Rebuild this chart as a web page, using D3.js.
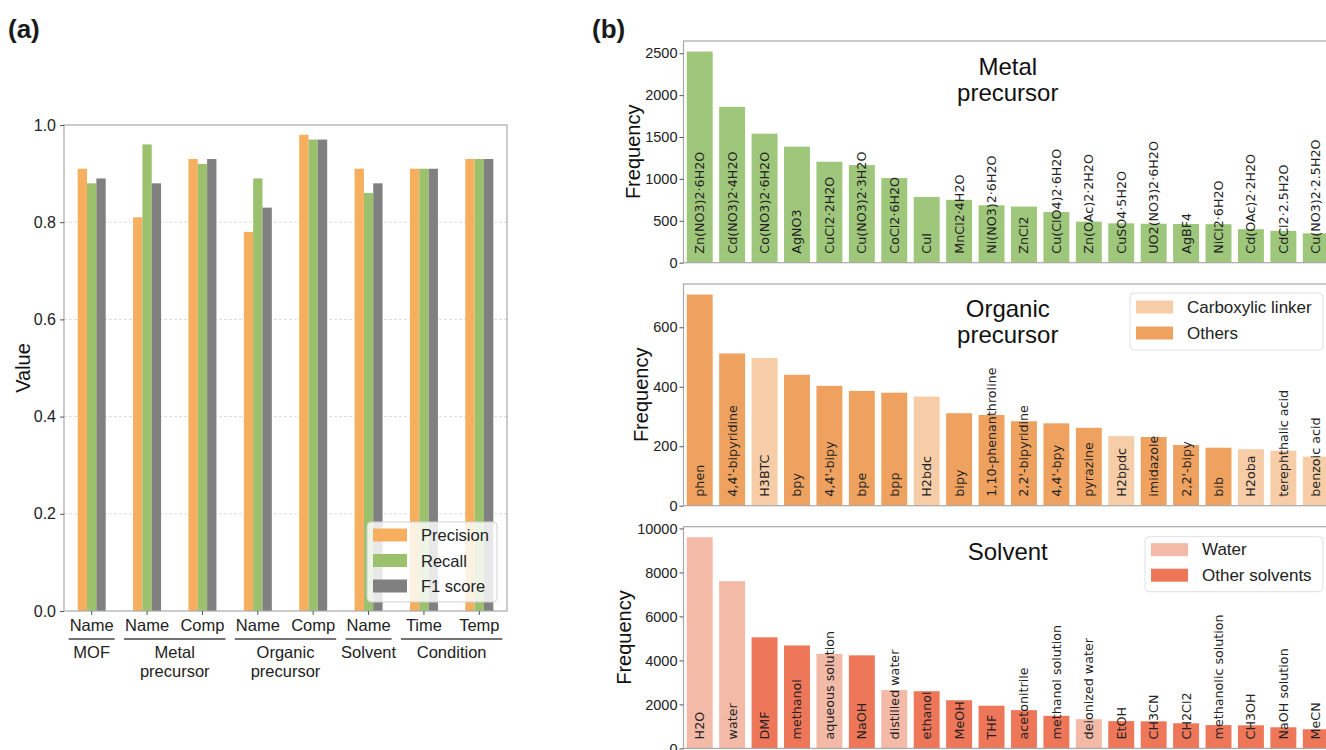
<!DOCTYPE html>
<html>
<head>
<meta charset="utf-8">
<script src="https://cdn.jsdelivr.net/npm/d3@7/dist/d3.min.js"></script>
<style>
  html, body { margin: 0; padding: 0; background: #fff; }
  svg { display: block; }
</style>
</head>
<body>
<svg id="fig" width="1326" height="750"></svg>
<script>
// ---------- Panel (a): extraction performance ----------
const tasks = ["MOF-Name", "Metal-Name", "Metal-Comp", "Organic-Name", "Organic-Comp", "Solvent-Name", "Condition-Time", "Condition-Temp"];
const taskTicks = ["Name", "Name", "Comp", "Name", "Comp", "Name", "Time", "Temp"];
const taskGroups = [
  { lines: ["MOF"], first: 0, last: 0 },
  { lines: ["Metal", "precursor"], first: 1, last: 2 },
  { lines: ["Organic", "precursor"], first: 3, last: 4 },
  { lines: ["Solvent"], first: 5, last: 5 },
  { lines: ["Condition"], first: 6, last: 7 }
];
const metricNames = ["Precision", "Recall", "F1 score"];
const precision = [0.91, 0.81, 0.93, 0.78, 0.98, 0.91, 0.91, 0.93];
const recall    = [0.88, 0.96, 0.92, 0.89, 0.97, 0.86, 0.91, 0.93];
const f1score   = [0.89, 0.88, 0.93, 0.83, 0.97, 0.88, 0.91, 0.93];
const valueTicks = [0, 0.2, 0.4, 0.6, 0.8, 1.0];

// ---------- Panel (b): frequency of extracted entities ----------
const metalNames = ["Zn(NO3)2·6H2O", "Cd(NO3)2·4H2O", "Co(NO3)2·6H2O", "AgNO3", "CuCl2·2H2O", "Cu(NO3)2·3H2O",
  "CoCl2·6H2O", "CuI", "MnCl2·4H2O", "Ni(NO3)2·6H2O", "ZnCl2", "Cu(ClO4)2·6H2O", "Zn(OAc)2·2H2O", "CuSO4·5H2O",
  "UO2(NO3)2·6H2O", "AgBF4", "NiCl2·6H2O", "Cd(OAc)2·2H2O", "CdCl2·2.5H2O", "Cu(NO3)2·2.5H2O"];
const metalCounts = [2520, 1860, 1540, 1385, 1205, 1165, 1010, 785, 750, 685, 670, 605, 490, 470, 465, 462, 460, 400, 380, 350];
const metalTicks = [0, 500, 1000, 1500, 2000, 2500];

const organicNames = ["phen", "4,4'-bipyridine", "H3BTC", "bpy", "4,4'-bipy", "bpe", "bpp", "H2bdc", "bipy",
  "1,10-phenanthroline", "2,2'-bipyridine", "4,4'-bpy", "pyrazine", "H2bpdc", "imidazole", "2,2'-bipy", "bib",
  "H2oba", "terephthalic acid", "benzoic acid"];
const organicCounts = [710, 512, 497, 440, 403, 386, 380, 367, 311, 305, 284, 277, 262, 234, 231, 204, 195, 190, 185, 165];
const carboxylicLinkers = ["H3BTC", "H2bdc", "H2bpdc", "H2oba", "terephthalic acid", "benzoic acid"];
const organicTicks = [0, 200, 400, 600];

const solventNames = ["H2O", "water", "DMF", "methanol", "aqueous solution", "NaOH", "distilled water", "ethanol",
  "MeOH", "THF", "acetonitrile", "methanol solution", "deionized water", "EtOH", "CH3CN", "CH2Cl2",
  "methanolic solution", "CH3OH", "NaOH solution", "MeCN"];
const solventCounts = [9600, 7600, 5050, 4680, 4300, 4230, 2650, 2600, 2190, 1940, 1740, 1480, 1330, 1240, 1230, 1140, 1060, 1050, 960, 870];
const waterSolvents = ["H2O", "water", "aqueous solution", "distilled water", "deionized water"];
const solventTicks = [0, 2000, 4000, 6000, 8000, 10000];

// ---------- styling ----------
const SANS = "'Liberation Sans', Arial, Helvetica, sans-serif";
const LABEL_FONT = "'DejaVu Sans', Verdana, sans-serif";
const C = {
  precision: "#F5AF5F", recall: "#9CC16D", f1: "#808080",
  metal: "#9FC77B",
  organic: "#EFA25F", carboxylic: "#F6CDA7",
  solvent: "#EE7659", water: "#F3BAA8",
  spine: "#A8A8A8", text: "#1a1a1a"
};

const svg = d3.select("#fig");

// panel letters
svg.append("text").attr("x", 8).attr("y", 38).attr("font-family", SANS).attr("font-weight", "bold")
  .attr("font-size", 26).attr("fill", C.text).text("(a)");
svg.append("text").attr("x", 592).attr("y", 38).attr("font-family", SANS).attr("font-weight", "bold")
  .attr("font-size", 26).attr("fill", C.text).text("(b)");

// ================= Panel (a) =================
(function drawPanelA() {
  const box = { left: 64, right: 507, top: 125, bottom: 611 };
  const x = d3.scaleBand().domain(tasks).range([box.left, box.right]).padding(0);
  const y = d3.scaleLinear().domain([0, 1]).range([box.bottom, box.top]);
  const sub = d3.scaleBand().domain(metricNames).range([-14, 14]).padding(0);
  const g = svg.append("g");

  // grid
  g.append("g").selectAll("line").data(valueTicks.slice(1, -1)).join("line")
    .attr("x1", box.left).attr("x2", box.right)
    .attr("y1", d => y(d)).attr("y2", d => y(d))
    .attr("stroke", "#dcdcdc").attr("stroke-width", 1).attr("stroke-dasharray", "3,2");

  const series = [
    { name: "Precision", values: precision, color: C.precision },
    { name: "Recall", values: recall, color: C.recall },
    { name: "F1 score", values: f1score, color: C.f1 }
  ];
  series.forEach(s => {
    g.append("g").selectAll("rect").data(tasks).join("rect")
      .attr("x", (t) => x(t) + x.bandwidth() / 2 + sub(s.name))
      .attr("width", sub.bandwidth())
      .attr("y", (t, i) => y(s.values[i]))
      .attr("height", (t, i) => y(0) - y(s.values[i]))
      .attr("fill", s.color);
  });

  // frame
  g.append("rect").attr("x", box.left).attr("y", box.top)
    .attr("width", box.right - box.left).attr("height", box.bottom - box.top)
    .attr("fill", "none").attr("stroke", C.spine).attr("stroke-width", 1.2);

  // y axis
  const ya = g.append("g").attr("transform", `translate(${box.left},0)`)
    .call(d3.axisLeft(y).tickValues(valueTicks).tickFormat(d3.format(".1f")).tickSize(4).tickPadding(4));
  ya.select(".domain").remove();
  ya.selectAll(".tick line").attr("stroke", "#555");
  ya.selectAll(".tick text").attr("font-family", SANS).attr("font-size", 16).attr("fill", "#222");

  // x axis ticks and labels
  const xa = g.append("g").attr("transform", `translate(0,${box.bottom})`)
    .call(d3.axisBottom(x).tickSize(4).tickPadding(4).tickFormat((d, i) => taskTicks[i]));
  xa.select(".domain").remove();
  xa.selectAll(".tick line").attr("stroke", "#555");
  xa.selectAll(".tick text").attr("font-family", SANS).attr("font-size", 16.5).attr("fill", "#222");

  // group brackets
  const cx = t => x(t) + x.bandwidth() / 2;
  taskGroups.forEach(gr => {
    const x0 = cx(tasks[gr.first]) - 23, x1 = cx(tasks[gr.last]) + 23;
    g.append("line").attr("x1", x0).attr("x2", x1).attr("y1", 639).attr("y2", 639)
      .attr("stroke", "#444").attr("stroke-width", 1.3);
    const mid = (cx(tasks[gr.first]) + cx(tasks[gr.last])) / 2;
    gr.lines.forEach((ln, k) => {
      g.append("text").attr("x", mid).attr("y", 658 + k * 19).attr("text-anchor", "middle")
        .attr("font-family", SANS).attr("font-size", 16.5).attr("fill", "#222").text(ln);
    });
  });

  // y label
  g.append("text").attr("transform", `translate(30,${(box.top + box.bottom) / 2}) rotate(-90)`)
    .attr("text-anchor", "middle").attr("font-family", SANS).attr("font-size", 20).attr("fill", "#111").text("Value");

  // legend
  const lg = g.append("g");
  lg.append("rect").attr("x", 367).attr("y", 522).attr("width", 130).attr("height", 80).attr("rx", 4)
    .attr("fill", "#fff").attr("fill-opacity", 0.82).attr("stroke", "#d0d0d0");
  series.forEach((s, i) => {
    const cy = 535 + i * 25.5;
    lg.append("rect").attr("x", 373).attr("y", cy - 6.5).attr("width", 34).attr("height", 13).attr("fill", s.color);
    lg.append("text").attr("x", 421).attr("y", cy).attr("dominant-baseline", "central")
      .attr("font-family", SANS).attr("font-size", 16.5).attr("fill", "#222").text(s.name);
  });
})();

// ================= Panel (b) =================
function drawFrequencyPanel(opt) {
  const box = { left: 683.5, right: 1332, top: opt.top, bottom: opt.top + 221.7 };
  const x = d3.scaleBand().domain(opt.names).range([box.left, box.right]).paddingInner(0.2).paddingOuter(0.1);
  const y = d3.scaleLinear().domain([0, d3.max(opt.counts) * 1.05]).range([box.bottom, box.top]);
  const g = svg.append("g");

  g.append("g").selectAll("rect").data(opt.names).join("rect")
    .attr("x", d => x(d)).attr("width", x.bandwidth())
    .attr("y", (d, i) => y(opt.counts[i]))
    .attr("height", (d, i) => y(0) - y(opt.counts[i]))
    .attr("fill", d => opt.color(d));

  // in-bar labels, rotated
  g.append("g").selectAll("text").data(opt.names).join("text")
    .attr("transform", d => `translate(${x(d) + x.bandwidth() / 2},${y(0) - 9}) rotate(-90)`)
    .attr("text-anchor", "start").attr("dominant-baseline", "central")
    .attr("font-family", LABEL_FONT).attr("font-size", 12.7).attr("fill", "#222")
    .text(d => d);

  // frame
  g.append("rect").attr("x", box.left).attr("y", box.top)
    .attr("width", box.right - box.left).attr("height", box.bottom - box.top)
    .attr("fill", "none").attr("stroke", C.spine).attr("stroke-width", 1.2);

  const ya = g.append("g").attr("transform", `translate(${box.left},0)`)
    .call(d3.axisLeft(y).tickValues(opt.ticks).tickFormat(d3.format("d")).tickSize(4).tickPadding(2));
  ya.select(".domain").remove();
  ya.selectAll(".tick line").attr("stroke", "#555");
  ya.selectAll(".tick text").attr("font-family", SANS).attr("font-size", 14.5).attr("fill", "#222");

  g.append("text").attr("transform", `translate(${opt.ylabelX},${(box.top + box.bottom) / 2}) rotate(-90)`)
    .attr("text-anchor", "middle").attr("font-family", SANS).attr("font-size", 20).attr("fill", "#111")
    .text("Frequency");

  // title centred on the axes
  const tx = (box.left + box.right) / 2;
  opt.title.forEach((ln, k) => {
    g.append("text").attr("x", tx).attr("y", box.top + opt.titleY + k * 26).attr("text-anchor", "middle")
      .attr("font-family", SANS).attr("font-size", 24).attr("fill", "#111").text(ln);
  });

  if (opt.legend) {
    const L = opt.legend;
    g.append("rect").attr("x", L.x).attr("y", box.top + L.y).attr("width", L.w).attr("height", L.h).attr("rx", 4)
      .attr("fill", "#fff").attr("fill-opacity", 0.85).attr("stroke", "#e0e0e0");
    L.items.forEach((it, i) => {
      const cy = box.top + L.y + L.first + i * L.step;
      g.append("rect").attr("x", L.x + 6).attr("y", cy - 6.5).attr("width", 37).attr("height", 13).attr("fill", it.color);
      g.append("text").attr("x", L.x + 57).attr("y", cy).attr("dominant-baseline", "central")
        .attr("font-family", SANS).attr("font-size", 17).attr("fill", "#222").text(it.label);
    });
  }
}

drawFrequencyPanel({
  top: 41, names: metalNames, counts: metalCounts, ticks: metalTicks,
  color: () => C.metal, title: ["Metal", "precursor"], titleY: 34, ylabelX: 640
});

drawFrequencyPanel({
  top: 284, names: organicNames, counts: organicCounts, ticks: organicTicks,
  color: d => carboxylicLinkers.includes(d) ? C.carboxylic : C.organic,
  title: ["Organic", "precursor"], titleY: 33, ylabelX: 648,
  legend: { x: 1130, y: 9, w: 193, h: 57, first: 14, step: 26,
    items: [{ label: "Carboxylic linker", color: C.carboxylic }, { label: "Others", color: C.organic }] }
});

drawFrequencyPanel({
  top: 526.7, names: solventNames, counts: solventCounts, ticks: solventTicks,
  color: d => waterSolvents.includes(d) ? C.water : C.solvent,
  title: ["Solvent"], titleY: 33, ylabelX: 631,
  legend: { x: 1145, y: 10, w: 178, h: 55, first: 13, step: 25.5,
    items: [{ label: "Water", color: C.water }, { label: "Other solvents", color: C.solvent }] }
});
</script>
</body>
</html>
